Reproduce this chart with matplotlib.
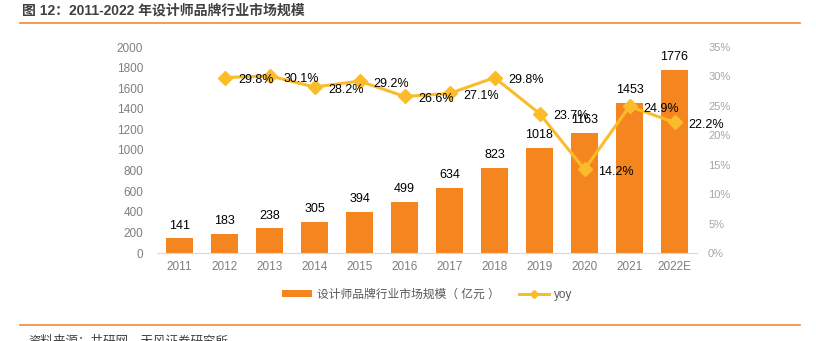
import matplotlib
matplotlib.use("Agg")
import numpy as np
from matplotlib import pyplot as plt
from matplotlib.lines import Line2D
from matplotlib.ticker import FuncFormatter

plt.rcParams['font.family'] = ['Liberation Sans', 'Noto Sans CJK SC', 'DejaVu Sans']

# --- data ---
years = ['2011', '2012', '2013', '2014', '2015', '2016', '2017', '2018',
         '2019', '2020', '2021', '2022E']
market_size = [141, 183, 238, 305, 394, 499, 634, 823, 1018, 1163, 1453, 1776]
yoy_years = years[1:]
yoy = [29.8, 30.1, 28.2, 29.2, 26.6, 27.1, 29.8, 23.7, 14.2, 24.9, 22.2]

bar_color = '#F5861F'
line_color = '#FBBC2C'
tick_gray = '#7F7F7F'

fig = plt.figure(figsize=(8.16, 3.41), dpi=100)
ax = fig.add_axes([157 / 816, 88 / 341, 540 / 816, 206 / 341])
ax2 = ax.twinx()

x = np.arange(len(years))
bars = ax.bar(x, market_size, width=0.62, color=bar_color, zorder=2)
for xi, v in zip(x, market_size):
    ax.annotate(str(v), (xi, v), xytext=(0, 5), textcoords='offset points',
                ha='center', va='bottom', fontsize=9, color='#000000')

ax.set_xlim(-0.5, len(years) - 0.5)
ax.set_ylim(0, 2000)
ax.set_yticks(range(0, 2001, 200))
ax.set_xticks(x)
ax.set_xticklabels(years)

# yoy line
xl = x[1:]
line, = ax2.plot(xl, yoy, color=line_color, lw=2.2, marker='D', markersize=7,
                 zorder=3)
for xi, v in zip(xl, yoy):
    ax2.annotate(f'{v:.1f}%', (xi, v), xytext=(10, -2), textcoords='offset points',
                 ha='left', va='center', fontsize=9, color='#000000')
ax2.set_ylim(0, 35)
ax2.set_yticks(range(0, 36, 5))
ax2.yaxis.set_major_formatter(FuncFormatter(lambda v, p: f'{int(v)}%'))

for a in (ax, ax2):
    for s in a.spines.values():
        s.set_visible(False)
ax.spines['bottom'].set_visible(True)
ax.spines['bottom'].set_color('#D9D9D9')
ax.tick_params(axis='y', length=0, labelsize=8.5, labelcolor=tick_gray, pad=10)
ax.tick_params(axis='x', length=0, labelsize=8.5, labelcolor=tick_gray, pad=6)
ax2.tick_params(axis='y', length=0, labelsize=8, labelcolor='#A6A6A6', pad=8)

ax.set_zorder(ax2.get_zorder() - 1)
ax.patch.set_visible(False)

handles = [bars, Line2D([0], [0], color=line_color, lw=2.2, marker='D', markersize=4)]
fig.legend(handles, ['设计师品牌行业市场规模（ 亿元 ）', 'yoy'], loc='center',
           bbox_to_anchor=(427 / 816, 1 - 295 / 341), ncol=2, frameon=False,
           fontsize=8.5, labelcolor='#595959', handlelength=2.6, handleheight=0.5,
           columnspacing=1.6, handletextpad=0.4)

# title and rules
fig.text(22 / 816, 1 - 11 / 341, '图 12：2011-2022 年设计师品牌行业市场规模',
         fontsize=10, fontweight='bold', color='#404040', va='center', ha='left')
fig.add_artist(Line2D([20 / 816, 800 / 816], [1 - 23 / 341] * 2, color='#F08A3A', lw=1.2))
fig.add_artist(Line2D([20 / 816, 800 / 816], [1 - 325 / 341] * 2, color='#F08A3A', lw=1.2))
fig.text(28 / 816, 1 - 341 / 341, '资料来源：共研网，天风证券研究所',
         fontsize=9, color='#404040', va='center', ha='left')

fig.savefig('out.png', dpi=100)
